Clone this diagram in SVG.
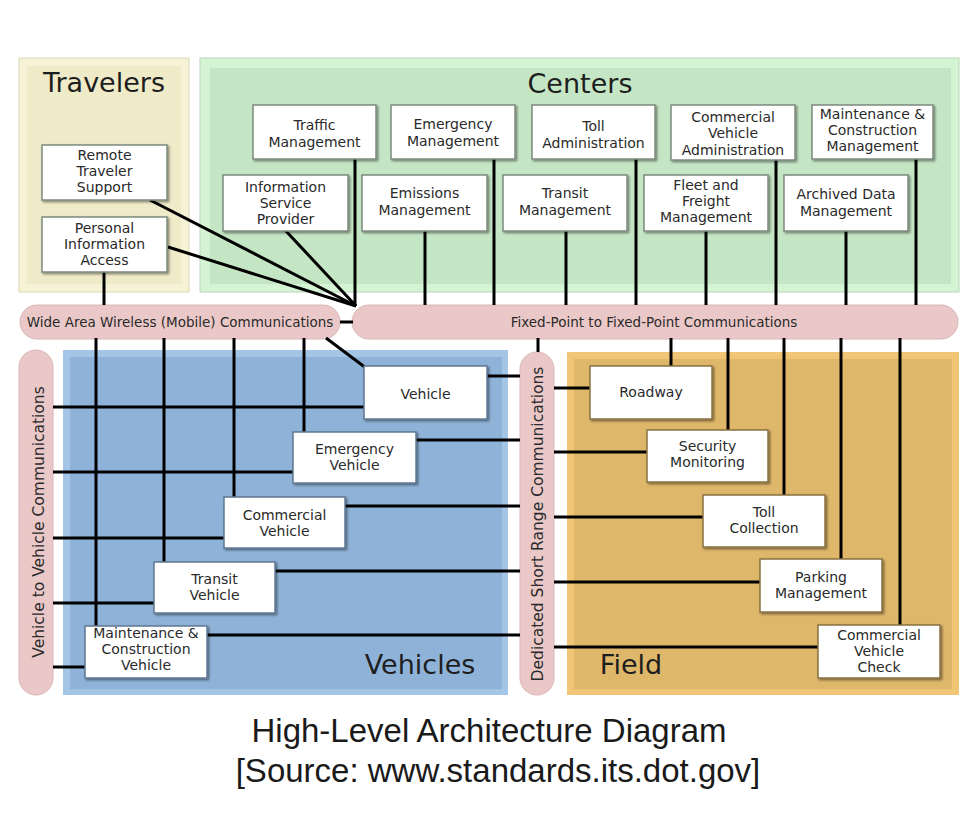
<svg xmlns="http://www.w3.org/2000/svg" width="978" height="834" viewBox="0 0 978 834">
<style>
.box{fill:#fff;stroke:#7d8a7d;stroke-width:1.5;filter:url(#sh)}
.vbox{fill:#fff;stroke:#5f7894;stroke-width:1.5;filter:url(#sh)}
.fbox{fill:#fff;stroke:#8a7140;stroke-width:1.5;filter:url(#sh)}
.bt{font-family:"DejaVu Sans",Verdana,sans-serif;font-size:14px;fill:#2a2a2a;text-anchor:middle}
.title{font-family:"DejaVu Sans",Verdana,sans-serif;font-size:27px;fill:#1e1e1e}
.bar{fill:#ebc8c8;stroke:#dab6b6;stroke-width:1}
.bart{font-family:"DejaVu Sans",Verdana,sans-serif;font-size:13.5px;fill:#2a2a2a}
.vt{font-family:"DejaVu Sans",Verdana,sans-serif;font-size:15.5px;fill:#2a2a2a;text-anchor:middle}
.ln{stroke:#000;stroke-width:3;fill:none}
.cap{font-family:"Liberation Sans",Arial,sans-serif;font-size:33px;fill:#1a1a1a;text-anchor:middle}
</style>
<defs>
<filter id="sh" x="-10%" y="-10%" width="130%" height="140%">
<feDropShadow dx="1.5" dy="1.5" stdDeviation="1" flood-color="#000" flood-opacity="0.45"/>
</filter>
</defs>
<rect width="978" height="834" fill="#fff"/>

<!-- panels -->
<g id="travelers-panel">
<rect x="19" y="58" width="170" height="234" fill="#f5f2d6" stroke="#dcd8b4"/>
<rect x="27" y="66" width="154" height="218" fill="#efebc9"/>
<text class="title" x="104" y="92" text-anchor="middle">Travelers</text>
</g>
<g id="centers-panel">
<rect x="200" y="58" width="759" height="234" fill="#d4f4d4" stroke="#b9d6b9"/>
<rect x="210" y="68" width="741" height="216" fill="#c5e6c5"/>
<text class="title" x="580" y="93" text-anchor="middle">Centers</text>
</g>
<g id="vehicles-panel">
<rect x="63" y="350" width="445" height="345" fill="#a5c5e7"/>
<rect x="70" y="357" width="432" height="332" fill="#8fb3d8"/>
<text class="title" x="420" y="674" text-anchor="middle">Vehicles</text>
</g>
<g id="field-panel">
<rect x="567" y="352" width="392" height="343" fill="#f0c676"/>
<rect x="574" y="359" width="378" height="330" fill="#deb76b"/>
<text class="title" x="631" y="674" text-anchor="middle">Field</text>
</g>

<!-- communication bars -->
<g id="wide-area">
<rect class="bar" x="20" y="305" width="320" height="34" rx="17"/>
<text class="bart" x="180" y="327" text-anchor="middle">Wide Area Wireless (Mobile) Communications</text>
</g>
<g id="fixed-point">
<rect class="bar" x="352" y="305" width="606" height="34" rx="17"/>
<text class="bart" x="654" y="327" text-anchor="middle">Fixed-Point to Fixed-Point Communications</text>
</g>
<g id="v2v">
<rect class="bar" x="19" y="350" width="34" height="345" rx="17"/>
<text class="vt" transform="translate(44,522) rotate(-90)">Vehicle to Vehicle Communications</text>
</g>
<g id="dsrc">
<rect class="bar" x="520" y="352" width="34" height="343" rx="17"/>
<text class="vt" transform="translate(543,524) rotate(-90)">Dedicated Short Range Communications</text>
</g>

<!-- connectors -->
<g id="connectors" class="ln">
<line x1="150" y1="200" x2="356" y2="306"/>
<line x1="168" y1="247" x2="356" y2="306"/>
<line x1="285" y1="230" x2="356" y2="306"/>
<line x1="355" y1="159" x2="355" y2="306"/>
<line x1="104" y1="272" x2="104" y2="305"/>
<line x1="425" y1="231" x2="425" y2="305"/>
<line x1="494" y1="159" x2="494" y2="305"/>
<line x1="566" y1="231" x2="566" y2="305"/>
<line x1="636" y1="159" x2="636" y2="305"/>
<line x1="706" y1="231" x2="706" y2="305"/>
<line x1="776" y1="160" x2="776" y2="305"/>
<line x1="846" y1="231" x2="846" y2="305"/>
<line x1="916" y1="159" x2="916" y2="305"/>
<line x1="340" y1="322" x2="353" y2="322"/>
<line x1="538" y1="338" x2="538" y2="352"/>
<line x1="326" y1="338" x2="366" y2="368"/>
<line x1="96" y1="338" x2="96" y2="626"/>
<line x1="164" y1="338" x2="164" y2="562"/>
<line x1="234" y1="338" x2="234" y2="497"/>
<line x1="304" y1="338" x2="304" y2="432"/>
<line x1="53" y1="407" x2="364" y2="407"/>
<line x1="53" y1="472" x2="293" y2="472"/>
<line x1="53" y1="538" x2="224" y2="538"/>
<line x1="53" y1="603" x2="154" y2="603"/>
<line x1="53" y1="667" x2="85" y2="667"/>
<line x1="487" y1="376" x2="520" y2="376"/>
<line x1="416" y1="440" x2="520" y2="440"/>
<line x1="345" y1="506" x2="520" y2="506"/>
<line x1="275" y1="571" x2="520" y2="571"/>
<line x1="207" y1="635" x2="520" y2="635"/>
<line x1="554" y1="388" x2="590" y2="388"/>
<line x1="554" y1="452" x2="647" y2="452"/>
<line x1="554" y1="517" x2="703" y2="517"/>
<line x1="554" y1="582" x2="760" y2="582"/>
<line x1="554" y1="647" x2="818" y2="647"/>
<line x1="671" y1="338" x2="671" y2="366"/>
<line x1="728" y1="338" x2="728" y2="430"/>
<line x1="784" y1="338" x2="784" y2="495"/>
<line x1="841" y1="338" x2="841" y2="559"/>
<line x1="900" y1="338" x2="900" y2="625"/>
</g>

<!-- traveler nodes -->
<g id="remote-traveler-support"><rect class="box" x="42" y="145" width="125" height="55"/>
<text class="bt" x="104.5" y="160">Remote</text><text class="bt" x="104.5" y="176">Traveler</text><text class="bt" x="104.5" y="192">Support</text></g>
<g id="personal-information-access"><rect class="box" x="42" y="217" width="125" height="55"/>
<text class="bt" x="104.5" y="233">Personal</text><text class="bt" x="104.5" y="249">Information</text><text class="bt" x="104.5" y="265">Access</text></g>

<!-- center nodes -->
<g id="traffic-management"><rect class="box" x="253" y="105" width="123" height="54"/>
<text class="bt" x="314.5" y="130">Traffic</text><text class="bt" x="314.5" y="147">Management</text></g>
<g id="emergency-management"><rect class="box" x="391" y="105" width="124" height="54"/>
<text class="bt" x="453" y="129">Emergency</text><text class="bt" x="453" y="146">Management</text></g>
<g id="toll-administration"><rect class="box" x="532" y="105" width="123" height="54"/>
<text class="bt" x="593.5" y="131">Toll</text><text class="bt" x="593.5" y="148">Administration</text></g>
<g id="commercial-vehicle-administration"><rect class="box" x="671" y="105" width="124" height="55"/>
<text class="bt" x="733" y="122">Commercial</text><text class="bt" x="733" y="138">Vehicle</text><text class="bt" x="733" y="155">Administration</text></g>
<g id="maintenance-construction-management"><rect class="box" x="812" y="105" width="121" height="54"/>
<text class="bt" x="872.5" y="119">Maintenance &amp;</text><text class="bt" x="872.5" y="135">Construction</text><text class="bt" x="872.5" y="151">Management</text></g>
<g id="information-service-provider"><rect class="box" x="223" y="175" width="125" height="56"/>
<text class="bt" x="285.5" y="192">Information</text><text class="bt" x="285.5" y="208">Service</text><text class="bt" x="285.5" y="224">Provider</text></g>
<g id="emissions-management"><rect class="box" x="362" y="175" width="125" height="56"/>
<text class="bt" x="424.5" y="198">Emissions</text><text class="bt" x="424.5" y="215">Management</text></g>
<g id="transit-management"><rect class="box" x="503" y="175" width="124" height="56"/>
<text class="bt" x="565" y="198">Transit</text><text class="bt" x="565" y="215">Management</text></g>
<g id="fleet-freight-management"><rect class="box" x="644" y="175" width="124" height="56"/>
<text class="bt" x="706" y="190">Fleet and</text><text class="bt" x="706" y="206">Freight</text><text class="bt" x="706" y="222">Management</text></g>
<g id="archived-data-management"><rect class="box" x="784" y="175" width="124" height="56"/>
<text class="bt" x="846" y="199">Archived Data</text><text class="bt" x="846" y="216">Management</text></g>

<!-- vehicle nodes -->
<g id="vehicle"><rect class="vbox" x="364" y="366" width="123" height="53"/>
<text class="bt" x="425.5" y="399">Vehicle</text></g>
<g id="emergency-vehicle"><rect class="vbox" x="293" y="432" width="123" height="51"/>
<text class="bt" x="354.5" y="454">Emergency</text><text class="bt" x="354.5" y="470">Vehicle</text></g>
<g id="commercial-vehicle"><rect class="vbox" x="224" y="497" width="121" height="51"/>
<text class="bt" x="284.5" y="520">Commercial</text><text class="bt" x="284.5" y="536">Vehicle</text></g>
<g id="transit-vehicle"><rect class="vbox" x="154" y="562" width="121" height="51"/>
<text class="bt" x="214.5" y="584">Transit</text><text class="bt" x="214.5" y="600">Vehicle</text></g>
<g id="maintenance-construction-vehicle"><rect class="vbox" x="85" y="626" width="122" height="52"/>
<text class="bt" x="146" y="638">Maintenance &amp;</text><text class="bt" x="146" y="654">Construction</text><text class="bt" x="146" y="670">Vehicle</text></g>

<!-- field nodes -->
<g id="roadway"><rect class="fbox" x="590" y="366" width="122" height="53"/>
<text class="bt" x="651" y="397">Roadway</text></g>
<g id="security-monitoring"><rect class="fbox" x="647" y="430" width="121" height="52"/>
<text class="bt" x="707.5" y="451">Security</text><text class="bt" x="707.5" y="467">Monitoring</text></g>
<g id="toll-collection"><rect class="fbox" x="703" y="495" width="122" height="52"/>
<text class="bt" x="764" y="517">Toll</text><text class="bt" x="764" y="533">Collection</text></g>
<g id="parking-management"><rect class="fbox" x="760" y="559" width="122" height="53"/>
<text class="bt" x="821" y="582">Parking</text><text class="bt" x="821" y="598">Management</text></g>
<g id="commercial-vehicle-check"><rect class="fbox" x="818" y="625" width="122" height="53"/>
<text class="bt" x="879" y="640">Commercial</text><text class="bt" x="879" y="656">Vehicle</text><text class="bt" x="879" y="672">Check</text></g>

<!-- caption -->
<text class="cap" x="489" y="742">High-Level Architecture Diagram</text>
<text class="cap" x="498" y="782">[Source: www.standards.its.dot.gov]</text>
</svg>
